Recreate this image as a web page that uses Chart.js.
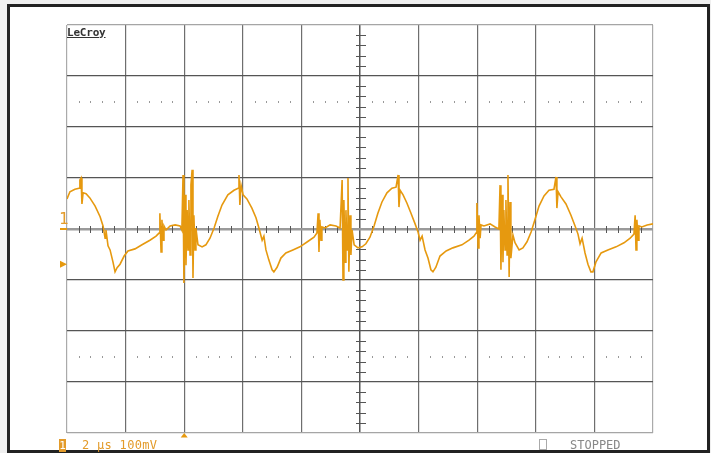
<!DOCTYPE html>
<html lang="en">
<head>
<meta charset="UTF-8">
<title>LeCroy</title>
<script src="https://cdn.jsdelivr.net/npm/chart.js"></script>
<style>
  html, body { margin: 0; padding: 0; background: #efefef; }
  body { width: 711px; height: 453px; position: relative; overflow: hidden; font-family: "DejaVu Sans Mono", monospace; }
  #frame { position: absolute; left: 7px; top: 4px; width: 697px; height: 443px; border: 3px solid #222; background: #fff; }
  #scope { position: absolute; left: 0; top: 0; }
  .lbl { position: absolute; white-space: nowrap; line-height: 1; }
  #brand { left: 67px; top: 27px; font-size: 11px; font-weight: bold; color: #333; text-decoration: underline; letter-spacing: -0.2px; }
  #gnd { left: 59px; top: 211px; font-size: 16px; color: #e39b2a; }
  #chbox { left: 59px; top: 439px; width: 7px; height: 13px; background: #e39b2a; color: #fff; font-size: 11px; text-align: center; line-height: 13px; }
  #scale { left: 82px; top: 439px; font-size: 12px; letter-spacing: 0.3px; color: #e39b2a; }
  #sq { left: 539px; top: 439px; width: 6px; height: 9px; border: 1px solid #aaa; }
  #state { left: 570px; top: 439px; font-size: 12px; color: #888; }
</style>
</head>
<body>
<div id="frame"></div>
<canvas id="scope" width="711" height="453"></canvas>
<div class="lbl" id="brand">LeCroy</div>
<div class="lbl" id="gnd">1</div>
<div class="lbl" id="chbox">1</div>
<div class="lbl" id="scale">2 µs 100mV</div>
<div class="lbl" id="sq"></div>
<div class="lbl" id="state">STOPPED</div>

<script>
    // trace: time in µs, voltage in mV
    const timeUs = [
        0, 0.10, 0.27, 0.41, 0.44, 0.48, 0.51, 0.55, 0.65, 0.78, 0.96, 1.13, 1.23, 1.30, 1.33, 1.40, 1.47, 1.57, 1.64, 1.71,
        1.81, 1.95, 2.08, 2.32, 2.56, 2.83, 3.04, 3.14, 3.17, 3.21, 3.24, 3.28, 3.31, 3.38, 3.52, 3.69, 3.86, 3.92, 3.96, 3.99,
        4.03, 4.06, 4.10, 4.13, 4.16, 4.20, 4.23, 4.27, 4.30, 4.33, 4.37, 4.40, 4.47, 4.61, 4.74, 4.88, 5.02, 5.15, 5.29, 5.49,
        5.70, 5.84, 5.87, 5.90, 5.94, 6.01, 6.14, 6.31, 6.45, 6.55, 6.66, 6.72, 6.79, 6.89, 7.00, 7.06, 7.17, 7.30, 7.47, 7.71,
        7.95, 8.23, 8.43, 8.53, 8.57, 8.60, 8.63, 8.67, 8.70, 8.81, 8.98, 9.18, 9.32, 9.39, 9.42, 9.45, 9.49, 9.52, 9.56, 9.59,
        9.62, 9.66, 9.69, 9.73, 9.80, 9.93, 10.07, 10.20, 10.34, 10.48, 10.61, 10.75, 10.92, 11.09, 11.23, 11.30, 11.33, 11.37, 11.47, 11.60,
        11.74, 11.88, 11.98, 12.05, 12.12, 12.22, 12.32, 12.42, 12.49, 12.59, 12.73, 12.94, 13.17, 13.48, 13.72, 13.89, 13.96, 13.99, 14.03, 14.06,
        14.10, 14.13, 14.23, 14.44, 14.61, 14.74, 14.78, 14.81, 14.85, 14.88, 14.91, 14.95, 14.98, 15.02, 15.05, 15.09, 15.12, 15.15, 15.22, 15.29,
        15.43, 15.56, 15.70, 15.84, 15.97, 16.11, 16.28, 16.45, 16.62, 16.69, 16.72, 16.76, 16.86, 17.03, 17.20, 17.34, 17.44, 17.51, 17.58, 17.68,
        17.78, 17.88, 17.95, 18.05, 18.23, 18.46, 18.74, 19.01, 19.22, 19.35, 19.39, 19.42, 19.45, 19.49, 19.52, 19.62, 19.80, 20.00
    ];
    const voltMv = [
        59, 73, 78, 80, 96, 100, 49, 71, 69, 61, 45, 24, 6, -18, -2, -33, -41, -65, -84, -76,
        -69, -53, -43, -39, -31, -22, -14, -8, 31, -45, 18, -22, 6, -2, 6, 8, 6, -2, 106, -106,
        67, -71, 37, -41, 57, -51, 86, 116, -96, 27, -41, 2, -31, -35, -31, -18, 2, 25, 47, 67,
        76, 80, 106, 47, 86, 67, 59, 41, 22, 2, -22, -14, -41, -61, -80, -84, -75, -57, -47, -41,
        -35, -24, -16, -8, 31, -45, 18, -22, 4, 2, 8, 6, 2, 96, -100, 57, -65, 37, -41, 100,
        -84, 27, -51, -2, -31, -37, -35, -29, -16, 6, 31, 53, 71, 80, 82, 106, 43, 76, 67, 51,
        31, 10, -6, -22, -14, -41, -57, -80, -84, -75, -53, -43, -37, -31, -22, -14, -8, 51, -37, 27,
        -18, 8, 6, 10, 4, 0, 86, -80, 67, -65, 37, -41, 57, -51, 106, -94, 53, -57, -12, -27,
        -41, -37, -25, -6, 18, 45, 65, 76, 78, 102, 41, 73, 63, 49, 27, 6, -10, -29, -18, -47,
        -69, -84, -84, -65, -47, -41, -35, -27, -18, -10, 27, -41, 18, -22, 6, 4, 8, 10
    ];

    const usPerDiv = 2;
    const mvPerDiv = 100;
    const trigTimeUs = 4;
    const trigLevelMv = -69;
    const dotRowsMv = [250, -250];

    const orange = '#e6990f';

    // graticule extras: minor ticks on the centre axes, dotted rows, level markers
    const scopeMarks = {
        id: 'scopeMarks',
        beforeDatasetsDraw(chart) {
            const { ctx, scales: { x, y } } = chart;
            const x0 = x.getPixelForValue(10);
            const y0 = y.getPixelForValue(0);
            ctx.save();
            for (let t = 0; t < 20 - 0.01; t += usPerDiv) {
                for (let k = 1; k < 5; k++) {
                    const px = Math.round(x.getPixelForValue(t + k * usPerDiv / 5));
                    ctx.fillStyle = '#555';
                    ctx.fillRect(px, y0 - 3, 1, 7);
                    ctx.fillStyle = '#999';
                    dotRowsMv.forEach(v => ctx.fillRect(px, Math.round(y.getPixelForValue(v)) - 1, 1, 2));
                }
            }
            ctx.fillStyle = '#555';
            for (let v = -400; v < 400 - 0.01; v += mvPerDiv) {
                for (let k = 1; k < 5; k++) {
                    const py = Math.round(y.getPixelForValue(v + k * mvPerDiv / 5));
                    ctx.fillRect(x0 - 4, py, 10, 1);
                }
            }
            ctx.restore();
        },
        afterDraw(chart) {
            const { ctx, chartArea: a, scales: { x, y } } = chart;
            ctx.save();
            ctx.fillStyle = orange;
            // ground marker dash
            ctx.fillRect(a.left - 7, Math.round(y.getPixelForValue(0)) - 1, 7, 2);
            // trigger level arrow
            const ty = y.getPixelForValue(trigLevelMv);
            ctx.beginPath();
            ctx.moveTo(a.left - 7, ty - 3.5);
            ctx.lineTo(a.left, ty);
            ctx.lineTo(a.left - 7, ty + 3.5);
            ctx.closePath();
            ctx.fill();
            // trigger time marker
            const tx = x.getPixelForValue(trigTimeUs);
            ctx.beginPath();
            ctx.moveTo(tx, a.bottom);
            ctx.lineTo(tx + 3.5, a.bottom + 4.5);
            ctx.lineTo(tx - 3.5, a.bottom + 4.5);
            ctx.closePath();
            ctx.fill();
            ctx.restore();
        }
    };

    new Chart(document.getElementById('scope'), {
        type: 'line',
        data: {
            datasets: [{
                data: timeUs.map((t, i) => ({ x: t, y: voltMv[i] })),
                borderColor: orange,
                borderWidth: 1.6,
                pointRadius: 0,
                tension: 0
            }]
        },
        options: {
            responsive: false,
            animation: false,
            layout: { padding: { left: 67, top: 25, right: 58, bottom: 20 } },
            plugins: { legend: { display: false }, tooltip: { enabled: false } },
            scales: {
                x: {
                    type: 'linear',
                    min: 0,
                    max: 20,
                    ticks: { display: false, stepSize: usPerDiv },
                    border: { display: false },
                    grid: {
                        drawTicks: false,
                        color: c => (c.tick.value === 0 || c.tick.value === 20) ? '#aaa' : (c.tick.value === 10 ? '#555' : '#6e6e6e'),
                        lineWidth: c => c.tick.value === 10 ? 1.5 : 1.2
                    }
                },
                y: {
                    min: -400,
                    max: 400,
                    ticks: { display: false, stepSize: mvPerDiv },
                    border: { display: false },
                    grid: {
                        drawTicks: false,
                        color: c => c.tick.value === 0 ? '#9a9a9a' : (Math.abs(c.tick.value) === 400 ? '#a5a5a5' : '#555'),
                        lineWidth: c => c.tick.value === 0 ? 2.5 : 1.2
                    }
                }
            }
        },
        plugins: [scopeMarks]
    });
</script>
</body>
</html>
